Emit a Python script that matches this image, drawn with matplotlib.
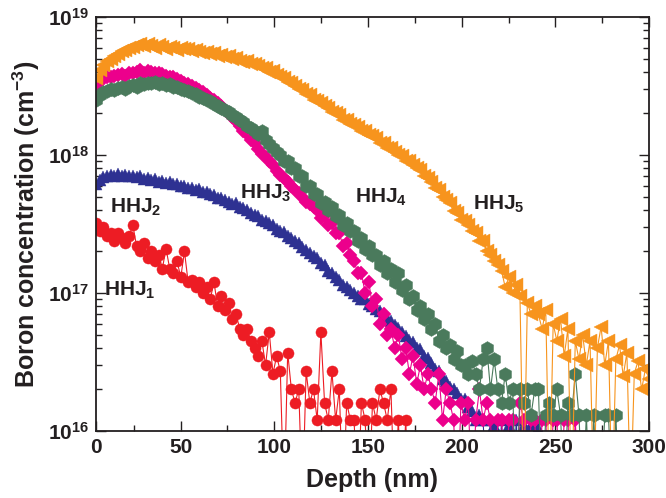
import numpy as np
import matplotlib
matplotlib.use('Agg')
import matplotlib.pyplot as plt
from matplotlib.ticker import FixedLocator, FixedFormatter, NullFormatter, LogLocator

plt.rcParams['font.family'] = ['Liberation Sans', 'DejaVu Sans']
plt.rcParams['font.weight'] = 'bold'
plt.rcParams['mathtext.fontset'] = 'custom'
plt.rcParams['mathtext.rm'] = 'Liberation Sans:bold'
plt.rcParams['mathtext.bf'] = 'Liberation Sans:bold'
plt.rcParams['mathtext.it'] = 'Liberation Sans:bold'
plt.rcParams['mathtext.default'] = 'rm'

UNIT = 1e16          # concentrations below are in units of 1e16 cm^-3
DEPTH_START = 4.8    # nm, first sample
DEPTH_STEP = 1.968   # nm, sampling step

hhj1 = [32, 28, 30, 26, 27, 24, 27, 25, 23, 26,
        31, 22, 20, 23, 18, 20, 17, 19, 15, 21,
        15, 14, 17, 13, 20, 12, 12.5, 11, 12, 10,
        11, 9, 12, 8, 9.5, 7.5, 8.5, 6.5, 7, 5.5,
        5, 5.5, 4.5, 4, 3.5, 4.5, 3, 5.2, 2.6, 3.5,
        2.7, 0.3, 3.7, 2, 1.6, 2, 0.3, 2.7, 1.6, 2,
        1.2, 5.2, 1.6, 1.2, 2.7, 1.2, 2, 0.3, 1.6, 1.2,
        1.2, 0.3, 1.6, 1.2, 0.3, 1.6, 1.2, 2, 1.6, 1.2,
        2, 0.3, 1.2, 0.3, 1.2, 0.3]

hhj2 = [62, 66, 69, 70, 72, 71, 73, 71, 72, 70,
        71, 69, 70, 67, 68, 66, 67, 64, 65, 63,
        64, 62, 62, 60, 60, 58, 58, 56, 57, 54,
        54, 52, 51, 49, 49, 47, 46, 44, 45, 42,
        41, 40, 38, 37, 36, 34, 33, 32, 31, 29,
        28, 27.5, 26, 25, 24, 23, 21.5, 20.5, 19.5, 18.5,
        18, 16.5, 16, 14.5, 14, 13, 12.5, 11.5, 11, 10.5,
        10, 9.5, 9, 9, 8.3, 8, 7.6, 7.4, 7, 6.6,
        6.3, 5.9, 5.6, 5.2, 4.9, 4.6, 4.4, 4, 3.9, 3.5,
        3.4, 3.1, 2.8, 2.7, 2.4, 2.3, 2.1, 2, 1.9, 1.7,
        1.7, 1.5, 1.4, 1.2, 1.3, 1.2, 0.3, 1.2, 1.1, 0.3,
        1.2, 0.3, 1.1, 0.3, 1.2, 0.3, 1.1, 0.3, 1.1, 0.3,
        1.05]

hhj3 = [320, 345, 355, 365, 370, 375, 380, 385, 375, 395,
        390, 400, 410, 395, 405, 400, 395, 390, 385, 375,
        370, 365, 355, 345, 335, 325, 315, 305, 295, 285,
        270, 260, 250, 238, 225, 212, 200, 188, 176, 162,
        150, 142, 128, 122, 110, 102, 96, 90, 84, 76,
        72, 68, 64, 60, 56, 53, 50, 46, 44, 42,
        40, 35, 37, 31, 32, 27, 27, 22, 23, 19,
        17, 14, 14, 10, 12, 8, 9, 6, 7, 5,
        5.5, 4, 5, 3.3, 4, 2.6, 3.5, 2.2, 3, 2,
        2.6, 2, 1.6, 2.6, 1.2, 2, 1.6, 1.2, 0.3, 1.6,
        1.2, 1.6, 0.3, 1.2, 2, 1.2, 1.6, 1.2, 0.3, 1.2,
        1.2, 0.3, 1.2, 1.2, 0.3, 1.6, 1.2, 0.3, 1.2, 1.2,
        0.3, 1.2, 1.2, 0.3, 1.2, 1.2, 0.3, 1.2, 1.2, 0.3,
        1.2, 0.3]

hhj4 = [250, 270, 285, 290, 300, 295, 305, 310, 300, 315,
        320, 310, 330, 325, 335, 330, 340, 325, 330, 320,
        325, 310, 310, 300, 295, 290, 280, 275, 265, 260,
        250, 245, 235, 228, 220, 212, 205, 195, 188, 178,
        172, 162, 158, 150, 142, 150, 128, 120, 112, 105,
        100, 90, 90, 80, 80, 70, 70, 60, 60, 52,
        52, 45, 46, 40, 42, 36, 37, 31, 32, 28,
        28, 24, 25, 21, 22, 19, 19, 16, 17, 14,
        15, 12, 14, 10.5, 11.5, 9, 9.5, 7.5, 8, 6.5,
        7, 5.5, 6, 4.5, 5, 4, 4.2, 3.3, 3.8, 3,
        3, 2.6, 3.2, 2.6, 2, 3.3, 4, 2, 3.3, 2,
        1.6, 2.6, 1.6, 2, 0.3, 2, 1.6, 2, 1.3, 2,
        2, 0.3, 1.3, 1.6, 1.3, 2, 1.3, 0.3, 1.6, 1.3,
        2.6, 1.3, 0.3, 1.3, 0.3, 1.3, 0.3, 0.3, 1.3, 1.3,
        0.3, 1.3, 0.3]

hhj5 = [360, 410, 450, 480, 500, 525, 535, 565, 575, 600,
        605, 625, 640, 615, 635, 620, 600, 625, 605, 590,
        610, 595, 580, 600, 585, 590, 565, 580, 560, 545,
        560, 540, 550, 525, 530, 515, 520, 495, 505, 480,
        470, 480, 455, 460, 440, 430, 425, 400, 405, 380,
        370, 360, 340, 335, 315, 300, 295, 275, 270, 250,
        245, 240, 225, 220, 205, 200, 195, 180, 180, 168,
        165, 160, 150, 148, 140, 138, 133, 122, 122, 112,
        112, 105, 100, 98, 90, 90, 84, 80, 78, 70,
        68, 64, 58, 56, 50, 47, 45, 39, 38, 34,
        33, 31, 28, 27, 24, 24, 20, 19, 17, 16,
        14.5, 11, 13, 10, 11.5, 9.5, 0.3, 8.5, 7, 8,
        7, 5.5, 7.5, 0.3, 6, 4.5, 6.5, 3.5, 5.5, 0.3,
        4.5, 3.3, 5, 3, 4.5, 0.3, 4, 5.7, 3, 4.5,
        0.3, 3.3, 4.2, 2.5, 3.7, 0.3, 2.6, 3.2, 2, 2.8,
        2.4]

series = [
    ('HHJ$_1$', hhj1, '#ED1C24', 'o', 8.0),
    ('HHJ$_2$', hhj2, '#2E3192', '^', 8.5),
    ('HHJ$_3$', hhj3, '#EC008C', 'D', 7.5),
    ('HHJ$_4$', hhj4, '#4A7A5C', 'h', 10.0),
    ('HHJ$_5$', hhj5, '#F7941D', '<', 10.5),
]

# label anchor positions (depth nm, concentration)
label_x = [9.1, 12.3, 81.7, 143.0, 206.0]
label_y = [1.05e17, 4.2e17, 5.3e17, 4.9e17, 4.4e17]

fig = plt.figure(figsize=(6.66, 4.98), dpi=100)
ax = fig.add_axes([0.1441, 0.1345, 0.8304, 0.8314])

for (name, vals, col, mk, ms) in series:
    v = np.array(vals, dtype=float) * UNIT
    d = DEPTH_START + DEPTH_STEP * np.arange(len(v))
    ax.plot(d, v, color=col, lw=0.8, marker=mk, ms=ms, mec=col, mew=0.3)

for (name, vals, col, mk, ms), lx, ly in zip(series, label_x, label_y):
    ax.text(lx, ly, name, fontsize=15, fontweight='bold', color='#231F20',
            ha='left', va='center')

ax.set_yscale('log')
ax.set_ylim(1e16, 1e19)
ax.set_xlim(DEPTH_START, 300)

ax.yaxis.set_major_locator(FixedLocator([1e16, 1e17, 1e18, 1e19]))
ax.yaxis.set_major_formatter(FixedFormatter([r'$10^{16}$', r'$10^{17}$', r'$10^{18}$', r'$10^{19}$']))
ax.yaxis.set_minor_locator(LogLocator(base=10, subs=np.arange(2, 10), numticks=20))
ax.yaxis.set_minor_formatter(NullFormatter())

ax.xaxis.set_major_locator(FixedLocator([DEPTH_START, 50, 100, 150, 200, 250, 300]))
ax.xaxis.set_major_formatter(FixedFormatter(['0', '50', '100', '150', '200', '250', '300']))
ax.xaxis.set_minor_locator(FixedLocator([25, 75, 125, 175, 225, 275]))

ax.tick_params(which='both', direction='in', top=True, right=True,
               color='#231F20', width=1.0, labelsize=15, labelcolor='#231F20')
ax.tick_params(which='major', length=7, pad=5)
ax.tick_params(which='minor', length=4)
for s in ax.spines.values():
    s.set_linewidth(1.3)
    s.set_color('#231F20')

ax.set_xlabel('Depth (nm)', fontsize=18, fontweight='bold', color='#231F20', labelpad=8)
ax.set_ylabel('Boron concentration (cm$^{-3}$)', fontsize=18, fontweight='bold',
              color='#231F20', labelpad=4)

fig.savefig('out.png', dpi=100)
